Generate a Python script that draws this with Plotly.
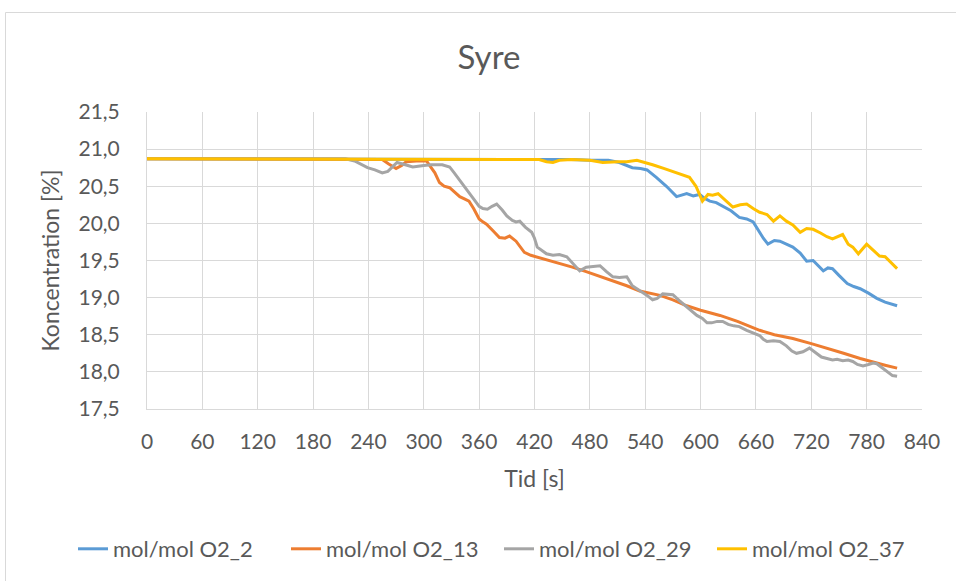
import plotly.graph_objects as go

# ---------------- data ----------------
title_text = "Syre"
x_title = "Tid [s]"
y_title = "Koncentration [%]"
series_names = ["mol/mol O2_2", "mol/mol O2_13", "mol/mol O2_29", "mol/mol O2_37"]
series_colors = ["#5B9BD5", "#ED7D31", "#A5A5A5", "#FFC000"]

t_o2_2 = [0, 100, 200, 300, 400, 440, 460, 480, 500, 512, 526, 535, 542, 552, 563, 574, 580, 585, 592, 599,
          604, 610, 617, 624, 633, 642, 650, 657, 664, 668, 673, 680, 686, 693, 700, 708, 715, 722, 727, 733,
          738, 743, 750, 759, 766, 773, 782, 791, 800, 806, 813]
v_o2_2 = [20.87, 20.87, 20.87, 20.87, 20.87, 20.86, 20.86, 20.85, 20.85, 20.82, 20.75, 20.74, 20.72, 20.62, 20.50,
          20.36, 20.38, 20.40, 20.37, 20.39, 20.34, 20.30, 20.28, 20.23, 20.17, 20.08, 20.06, 20.02, 19.88, 19.80,
          19.72, 19.77, 19.76, 19.72, 19.68, 19.60, 19.49, 19.50, 19.43, 19.36, 19.40, 19.39, 19.30, 19.19, 19.15,
          19.12, 19.06, 18.99, 18.94, 18.92, 18.89]

t_o2_13 = [0, 100, 200, 250, 255, 262, 270, 276, 281, 292, 303, 308, 312, 317, 322, 328, 333, 339, 344, 349,
           354, 360, 364, 368, 375, 382, 388, 393, 400, 405, 409, 416, 422, 430, 440, 450, 461, 476, 490, 505,
           520, 534, 545, 556, 570, 585, 600, 621, 640, 664, 680, 700, 720, 737, 755, 773, 790, 800, 813]
v_o2_13 = [20.87, 20.87, 20.87, 20.87, 20.86, 20.80, 20.74, 20.78, 20.83, 20.84, 20.84, 20.75, 20.68, 20.55, 20.50,
           20.48, 20.43, 20.36, 20.33, 20.30, 20.20, 20.06, 20.02, 19.99, 19.90, 19.81, 19.80, 19.83, 19.76, 19.67,
           19.61, 19.57, 19.55, 19.52, 19.49, 19.45, 19.41, 19.35, 19.29, 19.23, 19.16, 19.09, 19.06, 19.03, 18.97,
           18.89, 18.83, 18.76, 18.68, 18.56, 18.50, 18.45, 18.38, 18.32, 18.25, 18.18, 18.12, 18.09, 18.05]

t_o2_29 = [0, 100, 200, 215, 225, 232, 239, 247, 255, 261, 266, 271, 280, 288, 300, 308, 320, 328, 333, 339,
           346, 353, 360, 364, 369, 374, 379, 385, 390, 396, 400, 404, 410, 417, 420, 423, 428, 433, 440, 447,
           455, 462, 469, 476, 483, 491, 498, 505, 512, 520, 526, 534, 542, 548, 553, 559, 565, 570, 577, 585,
           591, 596, 602, 607, 612, 618, 624, 630, 636, 642, 650, 657, 664, 668, 672, 679, 686, 693, 699, 704,
           711, 718, 725, 731, 737, 743, 748, 754, 760, 765, 770, 776, 782, 787, 791, 796, 802, 808, 813]
v_o2_29 = [20.87, 20.87, 20.87, 20.87, 20.84, 20.80, 20.75, 20.72, 20.68, 20.70, 20.76, 20.82, 20.79, 20.76, 20.78,
           20.79, 20.79, 20.76, 20.68, 20.58, 20.47, 20.36, 20.23, 20.20, 20.19, 20.23, 20.26, 20.18, 20.10, 20.04,
           20.02, 20.03, 19.95, 19.88, 19.80, 19.68, 19.64, 19.59, 19.57, 19.58, 19.55, 19.45, 19.36, 19.41, 19.42,
           19.43, 19.35, 19.28, 19.27, 19.28, 19.16, 19.10, 19.03, 18.97, 18.99, 19.05, 19.04, 19.04, 18.96, 18.88,
           18.82, 18.76, 18.72, 18.66, 18.66, 18.68, 18.68, 18.64, 18.62, 18.61, 18.56, 18.53, 18.49, 18.44, 18.41,
           18.42, 18.41, 18.35, 18.28, 18.25, 18.27, 18.32, 18.25, 18.20, 18.18, 18.16, 18.17, 18.15, 18.16, 18.14,
           18.10, 18.08, 18.10, 18.12, 18.11, 18.06, 18.01, 17.95, 17.94]

t_o2_37 = [0, 100, 200, 300, 400, 425, 433, 440, 447, 460, 480, 494, 510, 520, 531, 540, 548, 560, 570, 580,
           588, 595, 602, 608, 613, 619, 627, 635, 643, 650, 657, 664, 672, 679, 686, 693, 700, 708, 715, 722,
           730, 737, 743, 749, 754, 760, 765, 771, 776, 780, 787, 794, 800, 806, 813]
v_o2_37 = [20.87, 20.87, 20.87, 20.87, 20.87, 20.86, 20.83, 20.82, 20.85, 20.86, 20.85, 20.82, 20.83, 20.83, 20.85,
           20.82, 20.79, 20.74, 20.70, 20.66, 20.62, 20.50, 20.30, 20.39, 20.38, 20.40, 20.31, 20.22, 20.25, 20.26,
           20.20, 20.15, 20.12, 20.03, 20.10, 20.03, 19.98, 19.88, 19.93, 19.92, 19.87, 19.82, 19.79, 19.82, 19.85,
           19.72, 19.68, 19.59, 19.66, 19.72, 19.64, 19.56, 19.55, 19.48, 19.39]

x_ticks = [0, 60, 120, 180, 240, 300, 360, 420, 480, 540, 600, 660, 720, 780, 840]
y_ticks = [17.5, 18.0, 18.5, 19.0, 19.5, 20.0, 20.5, 21.0, 21.5]

# ---------------- figure ----------------
W, H = 956, 581
L, R, T, B = 147, 34, 112, 172
pw, ph = W - L - R, H - T - B

FONT = "Lato, 'Open Sans', sans-serif"
TXT = "#595959"
GRID = "#D9D9D9"

fig = go.Figure()
all_t = [t_o2_2, t_o2_13, t_o2_29, t_o2_37]
all_v = [v_o2_2, v_o2_13, v_o2_29, v_o2_37]
for name, col, tt, vv in zip(series_names, series_colors, all_t, all_v):
    fig.add_trace(go.Scatter(x=tt, y=vv, mode="lines", name=name,
                             line=dict(color=col, width=3, shape="linear")))

def px_x(p):
    return (p - L) / pw

def px_y(p):
    return (H - B - p) / ph

fig.update_layout(
    width=W, height=H,
    margin=dict(l=L, r=R, t=T, b=B, autoexpand=False),
    paper_bgcolor="white", plot_bgcolor="white",
    separators=", ",
    font=dict(family=FONT, color=TXT, size=20),
    title=dict(text=title_text, xref="container", x=489 / W, xanchor="center",
               yref="container", y=1 - 57 / H, yanchor="middle",
               font=dict(family=FONT, size=33, color=TXT)),
    xaxis=dict(range=[0, 840], tickmode="array", tickvals=x_ticks,
               showgrid=True, gridcolor=GRID, gridwidth=1,
               showline=True, linecolor=GRID, linewidth=1, mirror=False,
               zeroline=False, ticks="", ticklabelstandoff=14,
               tickfont=dict(family=FONT, size=21, color=TXT),
               title=dict(text=x_title, standoff=18,
                          font=dict(family=FONT, size=23, color=TXT))),
    yaxis=dict(range=[17.5, 21.5], tickmode="array", tickvals=y_ticks,
               tickformat=".1f",
               showgrid=True, gridcolor=GRID, gridwidth=1,
               showline=True, linecolor=GRID, linewidth=1,
               zeroline=False, ticks="", ticklabelstandoff=22,
               tickfont=dict(family=FONT, size=21, color=TXT),
               title=dict(text=y_title, standoff=12,
                          font=dict(family=FONT, size=23, color=TXT))),
    legend=dict(orientation="h", x=px_x(73), xanchor="left",
                y=px_y(549), yanchor="middle",
                font=dict(family=FONT, size=22, color=TXT),
                itemwidth=30, tracegroupgap=0,
                entrywidth=168, entrywidthmode="pixels",
                bgcolor="rgba(0,0,0,0)"),
    showlegend=True,
)

# outer chart-area border (light gray)
fig.add_shape(type="rect", xref="paper", yref="paper",
              x0=px_x(5.5), x1=px_x(975), y0=px_y(600), y1=px_y(12.5),
              line=dict(color=GRID, width=1), fillcolor="rgba(0,0,0,0)", layer="below")

fig.write_html("out.html")
